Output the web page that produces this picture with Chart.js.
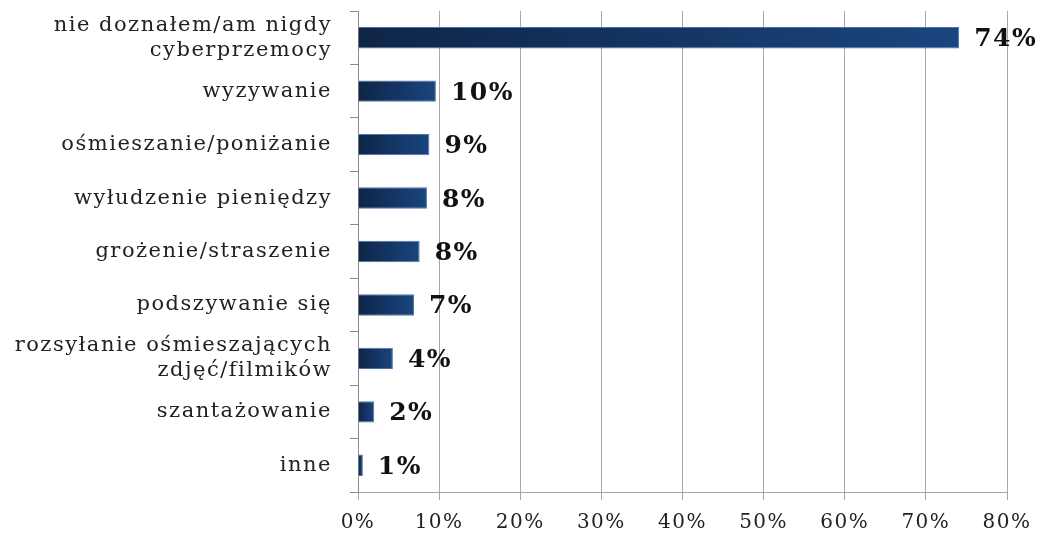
<!DOCTYPE html>
<html>
<head>
<meta charset="utf-8">
<script src="https://cdn.jsdelivr.net/npm/chart.js@4"></script>
<style>
  html, body { margin: 0; padding: 0; background: #fff; }
  #wrap { width: 1044px; height: 533px; }
</style>
</head>
<body>
<div id="wrap"><canvas id="c"></canvas></div>
<script>
// categories (top to bottom)
const categories = [
  ['nie doznałem/am nigdy', 'cyberprzemocy'],
  'wyzywanie',
  'ośmieszanie/poniżanie',
  'wyłudzenie pieniędzy',
  'grożenie/straszenie',
  'podszywanie się',
  ['rozsyłanie ośmieszających', 'zdjęć/filmików'],
  'szantażowanie',
  'inne'
];
// bar lengths (%)
const values = [74.1, 9.6, 8.8, 8.5, 7.6, 6.9, 4.3, 2.0, 0.6];
// labels printed next to bars
const valueLabels = ['74%', '10%', '9%', '8%', '8%', '7%', '4%', '2%', '1%'];
const xTicks = [0, 10, 20, 30, 40, 50, 60, 70, 80];

const serif = '"DejaVu Serif", "Liberation Serif", serif';

function barFill(ctx){
  const chart = ctx.chart;
  const x = chart.scales && chart.scales.x;
  if (!chart.chartArea || !x || ctx.raw == null) return '#15396b';
  const x0 = x.getPixelForValue(0);
  const x1 = x.getPixelForValue(ctx.raw);
  if (x1 - x0 < 1) return '#15396b';
  const g = chart.ctx.createLinearGradient(x0, 0, x1, 0);
  g.addColorStop(0, '#0e2547');
  g.addColorStop(1, '#1a4580');
  return g;
}

// the original text is set quite wide, so spread the letters a little
const wideText = {
  id: 'wideText',
  beforeDraw(chart){ chart.ctx.letterSpacing = '1.5px'; }
};

// draw percentage labels to the right of each bar
const valueLabelPlugin = {
  id: 'valueLabels',
  afterDatasetsDraw(chart){
    const c = chart.ctx;
    const meta = chart.getDatasetMeta(0);
    c.save();
    c.font = 'bold 25px ' + serif;
    c.fillStyle = '#111';
    c.textAlign = 'left';
    c.textBaseline = 'middle';
    meta.data.forEach((bar, i) => {
      c.fillText(valueLabels[i], bar.x + 15, bar.y + 2);
    });
    c.restore();
  }
};

new Chart(document.getElementById('c'), {
  type: 'bar',
  data: {
    labels: categories,
    datasets: [{
      data: values,
      backgroundColor: barFill,
      borderColor: '#4f74a6',
      borderWidth: 1,
      borderSkipped: 'left',
      barPercentage: 0.8,
      categoryPercentage: 0.5
    }]
  },
  options: {
    indexAxis: 'y',
    responsive: true,
    maintainAspectRatio: false,
    animation: false,
    layout: { padding: { top: 11, right: 37, left: 0, bottom: 0 } },
    plugins: { legend: { display: false }, tooltip: { enabled: false } },
    scales: {
      x: {
        min: 0, max: 80,
        afterBuildTicks: s => { s.ticks = xTicks.map(v => ({ value: v })); },
        afterFit: s => { s.height = 41; s.paddingLeft = 0; s.paddingRight = 0; },
        grid: { color: '#a6a6a6', lineWidth: 1, drawTicks: true, tickLength: 8 },
        border: { display: true, color: '#a6a6a6' },
        ticks: {
          padding: 11,
          color: '#222',
          font: { family: serif, size: 20 },
          callback: v => v + '%'
        }
      },
      y: {
        afterFit: s => { s.width = 358; s.paddingTop = 0; s.paddingBottom = 0; },
        grid: { drawOnChartArea: false, drawTicks: true, tickLength: 8, offset: true, color: '#8c8c8c' },
        border: { display: true, color: '#8c8c8c' },
        ticks: {
          padding: 18,
          color: '#222',
          font: { family: serif, size: 21, lineHeight: 1.2 }
        }
      }
    }
  },
  plugins: [wideText, valueLabelPlugin]
});
</script>
</body>
</html>
